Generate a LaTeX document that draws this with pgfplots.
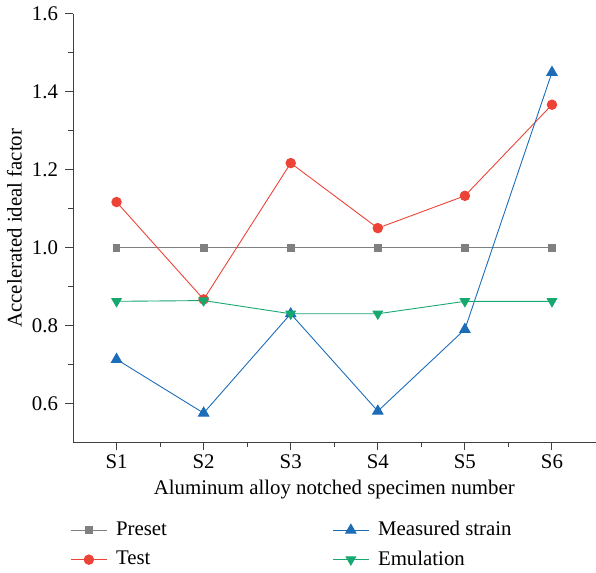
\documentclass[border=0pt]{standalone}
\usepackage{fontspec}
\setmainfont{Liberation Serif}
\usepackage{pgfplots}
\pgfplotsset{compat=1.18}
\definecolor{cgray}{RGB}{128,128,128}
\definecolor{cred}{RGB}{237,67,55}
\definecolor{cblue}{RGB}{28,108,184}
\definecolor{cgreen}{RGB}{22,168,110}
\begin{document}
\fontsize{21}{25}\selectfont
\begin{tikzpicture}
\begin{axis}[
  scale only axis,
  width=527pt, height=432pt,
  xmin=0.5, xmax=6.5, ymin=0.5, ymax=1.6,
  axis lines*=left,
  axis line style={line width=1pt, black!75},
  tick style={line width=1pt, black!75},
  tick align=outside,
  major tick length=8pt, minor tick length=5pt,
  xtick={1,2,3,4,5,6},
  xticklabels={S1,S2,S3,S4,S5,S6},
  minor xtick={1.5,2.5,3.5,4.5,5.5},
  ytick={0.6,0.8,1.0,1.2,1.4,1.6},
  minor ytick={0.7,0.9,1.1,1.3,1.5},
  /pgf/number format/assume math mode=true,
  yticklabel style={/pgf/number format/fixed, /pgf/number format/fixed zerofill, /pgf/number format/precision=1},
  xticklabel style={yshift=3pt},
  ticklabel style={font=\fontsize{21}{25}\selectfont},
  xlabel={Aluminum alloy notched specimen number},
  ylabel={Accelerated ideal factor},
  label style={font=\fontsize{21}{25}\selectfont},
  xlabel style={yshift=2pt},
  ylabel style={yshift=-4pt},
  legend columns=2,
  transpose legend,
  legend style={draw=none, at={(-0.005,-0.175)}, anchor=north west, font=\fontsize{21}{25}\selectfont, row sep=8pt,
    inner xsep=0pt,
    /tikz/every odd column/.append style={column sep=7pt},
    /tikz/every even column/.append style={column sep=165pt}},
  legend cell align=left,
  legend image code/.code={\draw[mark repeat=2,mark phase=2] plot coordinates {(0pt,0pt)(18pt,0pt)(36pt,0pt)};},
  every axis plot/.append style={line width=0.9pt},
]
\addplot[cgray, mark=square*, mark size=3.4pt, mark options={solid}] coordinates {(1,1.0)(2,1.0)(3,1.0)(4,1.0)(5,1.0)(6,1.0)};
\addlegendentry{Preset}
\addplot[cred, mark=*, mark size=4.8pt] coordinates {(1,1.117)(2,0.867)(3,1.217)(4,1.05)(5,1.133)(6,1.367)};
\addlegendentry{Test}
\addplot[cblue, mark=triangle*, mark size=6pt] coordinates {(1,0.713)(2,0.575)(3,0.83)(4,0.58)(5,0.79)(6,1.45)};
\addlegendentry{Measured strain}
\addplot[cgreen, mark=triangle*, mark size=5.5pt, mark options={rotate=180}] coordinates {(1,0.862)(2,0.864)(3,0.83)(4,0.83)(5,0.862)(6,0.862)};
\addlegendentry{Emulation}
\end{axis}
\end{tikzpicture}
\end{document}
